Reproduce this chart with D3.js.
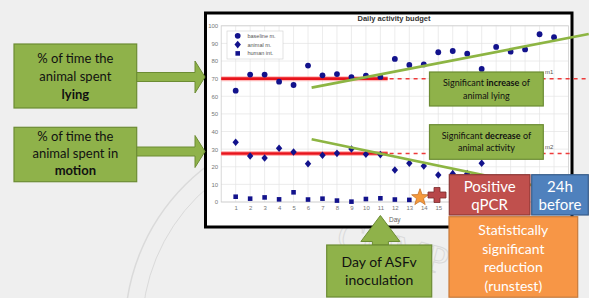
<!DOCTYPE html>
<html>
<head>
<meta charset="utf-8">
<script src="https://cdn.jsdelivr.net/npm/d3@7/dist/d3.min.js"></script>
<style>
    html, body { margin: 0; padding: 0; background: #efefef; }
    svg { display: block; }
</style>
</head>
<body>
<div id="chart"></div>
<script>
/**
 * Days shown on the x axis.
 * @type Array
 */
var DAYS = d3.range(1, 24);
/**
 * % of time lying (baseline m.), one value per day.
 * @type Array
 */
var LYING = [63.2, 72.3, 72.3, 68.3, 66.4, 77.4, 71.9, 72.6, 70.9, 71.7, 71.0, 81.2,
             77.8, 78.1, 85.0, 85.7, 84.2, 75.5, 88.0, 85.3, 86.6, 95.2, 93.5];
/**
 * % of time in motion (animal m.), visible days only.
 * @type Array
 */
var MOTION = [33.9, 26.1, 25.0, 30.5, 28.4, 21.7, 26.5, 27.6, 30.1, 27.1, 26.9, 18.2,
              22.0, 20.4, 15.3, 16.1, 16.1, 22.0];
/**
 * Human interaction, visible days only.
 * @type Array
 */
var HUMAN = [3.0, 1.9, 2.6, 1.5, 5.5, 1.4, 1.9, 0.8, 0.2, 1.7, 2.1, 1.4, 1.2];
/**
 * Baseline means (red lines) and the day where baseline ends.
 * @type Array
 */
var MEANS = [70, 27.5];
var BASELINE_END = 11.5;
/**
 * Trend lines drawn in green, as [day, value] pairs.
 * @type Array
 */
var TREND_UP = [[6.25, 64.9], [25.4, 95.3]];
var TREND_DOWN = [[6.25, 35.6], [23.8, 5.6]];
var Y_TICKS = d3.range(0, 101, 10);
var X_GRID = d3.range(1, 24);
var X_LABELS = d3.range(1, 16);
var LEGEND = ['baseline m.', 'animal m.', 'human int.'];

var W = 589, H = 298;
var NAVY = '#12128c';

var svg = d3.select('#chart').append('svg')
    .attr('width', W).attr('height', H);

var x = d3.scaleLinear().domain([0, 24]).range([221.2, 568.5]);
var y = d3.scaleLinear().domain([0, 100]).range([202, 25.8]);

// compact diamond marker, a bit taller than wide
var DIAMOND = 'M0,-3.8L3.2,0L0,3.8L-3.2,0Z';

drawBackground = function() {
    svg.append('rect').attr('width', W).attr('height', H).attr('fill', '#efefef');
    var wm = svg.append('g').attr('fill', 'none').attr('stroke', '#dadada');
    wm.append('circle').attr('cx', 330).attr('cy', 330).attr('r', 205).attr('stroke-width', 1.5);
    wm.append('circle').attr('cx', 330).attr('cy', 330).attr('r', 188).attr('stroke-width', 1);
    wm.append('text')
        .attr('transform', 'translate(335,246) rotate(15)')
        .attr('font-family', 'Liberation Serif').attr('font-size', 40)
        .attr('stroke-width', 1)
        .text('COMP');

    // black frame around the chart
    svg.append('rect')
        .attr('x', 205.5).attr('y', 13)
        .attr('width', 366.5).attr('height', 214)
        .attr('fill', '#ffffff')
        .attr('stroke', '#000').attr('stroke-width', 3);
};

drawPlot = function() {
    var g = svg.append('g');

    // grid
    g.selectAll('line.hgrid').data(Y_TICKS).enter().append('line')
        .attr('x1', x(0)).attr('x2', x(24))
        .attr('y1', function(d) { return y(d); }).attr('y2', function(d) { return y(d); })
        .attr('stroke', '#e4e4e4').attr('stroke-width', 0.7);
    g.selectAll('line.vgrid').data(X_GRID).enter().append('line')
        .attr('x1', function(d) { return x(d); }).attr('x2', function(d) { return x(d); })
        .attr('y1', y(100)).attr('y2', y(0))
        .attr('stroke', '#e4e4e4').attr('stroke-width', 0.7);
    g.append('rect')
        .attr('x', x(0)).attr('y', y(100))
        .attr('width', x(24) - x(0)).attr('height', y(0) - y(100))
        .attr('fill', 'none').attr('stroke', '#cfcfcf').attr('stroke-width', 0.8);

    var yAxis = g.append('g')
        .attr('transform', 'translate(' + x(0) + ',0)')
        .call(d3.axisLeft(y).tickValues(Y_TICKS).tickSize(0).tickPadding(3));
    var xAxis = g.append('g')
        .attr('transform', 'translate(0,' + y(0) + ')')
        .call(d3.axisBottom(x).tickValues(X_LABELS).tickSize(0).tickPadding(4));
    [yAxis, xAxis].forEach(function(a) {
        a.select('.domain').remove();
        a.selectAll('text')
            .attr('font-family', 'Liberation Sans').attr('font-size', 6)
            .attr('fill', '#777');
    });

    g.append('text')
        .attr('x', (x(0) + x(24)) / 2).attr('y', 222)
        .attr('text-anchor', 'middle')
        .attr('font-family', 'Liberation Sans').attr('font-size', 6.5)
        .attr('fill', '#666')
        .text('Day');
    g.append('text')
        .attr('x', 394).attr('y', 21)
        .attr('text-anchor', 'middle')
        .attr('font-family', 'Liberation Sans').attr('font-size', 7.5)
        .attr('font-weight', 'bold').attr('fill', '#333')
        .text('Daily activity budget');

    // baseline means: solid during baseline, dashed afterwards
    MEANS.forEach(function(m, i) {
        g.append('line')
            .attr('x1', x(0)).attr('x2', x(BASELINE_END))
            .attr('y1', y(m)).attr('y2', y(m))
            .attr('stroke', '#ff8a8a').attr('stroke-width', 5).attr('opacity', 0.6);
        g.append('line')
            .attr('x1', x(0)).attr('x2', x(BASELINE_END))
            .attr('y1', y(m)).attr('y2', y(m))
            .attr('stroke', '#e8141c').attr('stroke-width', 2.6);
        g.append('line')
            .attr('x1', x(BASELINE_END) + 2).attr('x2', i === 0 ? W : 570)
            .attr('y1', y(m)).attr('y2', y(m))
            .attr('stroke', '#ee3a3a').attr('stroke-width', 1.5)
            .attr('stroke-dasharray', '4,4');
        g.append('text')
            .attr('x', 545).attr('y', y(m) - 5)
            .attr('font-family', 'Liberation Sans').attr('font-size', 6)
            .attr('fill', '#555')
            .text('m' + (i + 1));
    });

    // data points
    g.selectAll('circle.lying').data(LYING).enter().append('circle')
        .attr('cx', function(d, i) { return x(DAYS[i]); })
        .attr('cy', function(d) { return y(d); })
        .attr('r', 2.9).attr('fill', NAVY);
    g.selectAll('path.motion').data(MOTION).enter().append('path')
        .attr('d', DIAMOND)
        .attr('transform', function(d, i) { return 'translate(' + x(DAYS[i]) + ',' + y(d) + ')'; })
        .attr('fill', NAVY);
    g.selectAll('path.human').data(HUMAN).enter().append('path')
        .attr('d', d3.symbol().type(d3.symbolSquare).size(21))
        .attr('transform', function(d, i) { return 'translate(' + x(DAYS[i]) + ',' + y(d) + ')'; })
        .attr('fill', NAVY);

    // legend
    var lg = g.append('g');
    lg.append('rect')
        .attr('x', 227).attr('y', 31).attr('width', 56).attr('height', 28)
        .attr('fill', '#fff').attr('stroke', '#cfcfcf').attr('stroke-width', 0.6);
    var marks = [d3.symbol().type(d3.symbolCircle).size(26)(), DIAMOND,
                 d3.symbol().type(d3.symbolSquare).size(21)()];
    LEGEND.forEach(function(name, i) {
        var ly = 35.8 + i * 8.8;
        lg.append('path')
            .attr('d', marks[i])
            .attr('transform', 'translate(237.7,' + ly + ')')
            .attr('fill', NAVY);
        lg.append('text')
            .attr('x', 247.5).attr('y', ly + 2)
            .attr('font-family', 'Liberation Sans').attr('font-size', 5.5)
            .attr('fill', '#555')
            .text(name);
    });

    // trend lines
    var line = d3.line()
        .x(function(d) { return x(d[0]); })
        .y(function(d) { return y(d[1]); });
    [TREND_UP, TREND_DOWN].forEach(function(t) {
        g.append('path')
            .attr('d', line(t))
            .attr('fill', 'none').attr('stroke', '#8db543').attr('stroke-width', 2.6);
    });
};

/**
 * Draws a box with centred lines of text. Each line is a list of
 * [text, bold] parts.
 */
textBox = function(bx, by, bw, bh, fill, stroke, color, size, lines, lineY) {
    svg.append('rect')
        .attr('x', bx).attr('y', by).attr('width', bw).attr('height', bh)
        .attr('fill', fill).attr('stroke', stroke).attr('stroke-width', 1.2);
    lines.forEach(function(parts, i) {
        var t = svg.append('text')
            .attr('x', bx + bw / 2).attr('y', lineY[i])
            .attr('text-anchor', 'middle')
            .attr('font-family', 'Lato').attr('font-size', size)
            .attr('fill', color);
        parts.forEach(function(p) {
            t.append('tspan').attr('font-weight', p[1] ? 'bold' : 'normal').text(p[0]);
        });
    });
};

drawAnnotations = function() {
    var GF = '#8fb24a', GS = '#6c8c33';

    // right pointing arrows from the left boxes
    [77, 151.5].forEach(function(cy) {
        var pts = [[136, cy - 4.5], [195, cy - 4.5], [195, cy - 16], [205, cy],
                   [195, cy + 16], [195, cy + 4.5], [136, cy + 4.5]];
        svg.append('polygon')
            .attr('points', pts.map(function(p) { return p.join(','); }).join(' '))
            .attr('fill', GF).attr('stroke', GS).attr('stroke-width', 1);
    });
    textBox(14, 44, 122.7, 64, GF, GS, '#111', 13,
        [[['% of time the']], [['animal spent']], [['lying', true]]], [62.5, 80.5, 98.5]);
    textBox(14, 127.3, 122.7, 54.4, GF, GS, '#111', 13,
        [[['% of time the']], [['animal spent in']], [['motion', true]]], [141, 158, 175]);

    textBox(429.5, 72, 113.8, 34, GF, GS, '#111', 9,
        [[['Significant '], ['increase', true], [' of']], [['animal lying']]], [85.5, 98.5]);
    textBox(429.5, 124.7, 113.8, 34.6, GF, GS, '#111', 9,
        [[['Significant '], ['decrease', true], [' of']], [['animal activity']]], [138.5, 151]);

    // star (day 14) and cross (day 15)
    var star = d3.range(10).map(function(i) {
        var a = -Math.PI / 2 + i * Math.PI / 5;
        var r = i % 2 ? 3.6 : 8.8;
        return [420 + r * Math.cos(a), 197.5 + r * Math.sin(a)];
    });
    svg.append('polygon')
        .attr('points', star.map(function(p) { return p.join(','); }).join(' '))
        .attr('fill', '#f59a3c').attr('stroke', '#c8722a').attr('stroke-width', 0.8);
    var cx = 437, cyy = 195, a = 3, b = 9, c = 7.5;
    var cross = [[cx - a, cyy - c], [cx + a, cyy - c], [cx + a, cyy - a], [cx + b, cyy - a],
                 [cx + b, cyy + a], [cx + a, cyy + a], [cx + a, cyy + c], [cx - a, cyy + c],
                 [cx - a, cyy + a], [cx - b, cyy + a], [cx - b, cyy - a], [cx - a, cyy - a]];
    svg.append('polygon')
        .attr('points', cross.map(function(p) { return p.join(','); }).join(' '))
        .attr('fill', '#b8474a').attr('stroke', '#7a2c2c').attr('stroke-width', 0.8);

    textBox(449.3, 174.7, 80.7, 40.3, '#c0504d', '#8c3836', '#fff', 15,
        [[['Positive']], [['qPCR']]], [192, 210]);
    textBox(531.7, 174.7, 56.6, 40.3, '#4f81bd', '#385d8a', '#fff', 15,
        [[['24h']], [['before']]], [192, 210]);
    textBox(449, 216.7, 128.7, 80.5, '#f79646', '#c77a3a', '#fff', 14,
        [[['Statistically']], [['significant']], [['reduction']], [['(runstest)']]],
        [235, 253.5, 272, 290.5]);

    // up arrow to the inoculation day
    var ax = x(11);
    var up = [[ax - 8, 245], [ax - 8, 241.5], [ax - 19.5, 241.5], [ax, 215.5],
              [ax + 19.5, 241.5], [ax + 8, 241.5], [ax + 8, 245]];
    svg.append('polygon')
        .attr('points', up.map(function(p) { return p.join(','); }).join(' '))
        .attr('fill', GF).attr('stroke', GS).attr('stroke-width', 1);
    textBox(326.7, 245, 105, 52, GF, GS, '#111', 14,
        [[['Day of ASFv']], [['inoculation']]], [266.5, 285]);
};

drawBackground();
drawPlot();
drawAnnotations();
</script>
</body>
</html>
